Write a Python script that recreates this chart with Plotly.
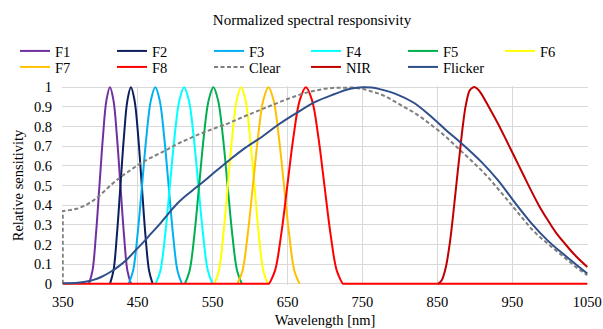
import plotly.graph_objects as go

# ---------------- data ----------------
bell = [0, 0.067, 0.25, 0.5, 0.75, 0.933, 1, 0.933, 0.75, 0.5, 0.25, 0.067, 0]

f1_x = [385, 389.7, 394.3, 399, 403.7, 408.3, 413, 417.7, 422.3, 427, 431.7, 436.3, 441]
f2_x = [413, 417.7, 422.3, 427, 431.7, 436.3, 441, 445.8, 450.7, 455.5, 460.3, 465.2, 470]
f3_x = [438, 443.9, 449.8, 455.8, 461.7, 467.6, 473.5, 479.4, 485.3, 491.3, 497.2, 503.1, 509]
f4_x = [474, 480.3, 486.7, 493, 499.3, 505.7, 512, 518.3, 524.7, 531, 537.3, 543.7, 550]
f5_x = [513, 519.3, 525.7, 532, 538.3, 544.7, 551, 557.3, 563.7, 570, 576.3, 582.7, 589]
f6_x = [552.5, 558.4, 564.3, 570.3, 576.2, 582.1, 588, 593.9, 599.8, 605.8, 611.7, 617.6, 623.5]
f7_x = [583, 589.9, 596.8, 603.8, 610.7, 617.6, 624.5, 631.4, 638.3, 645.3, 652.2, 659.1, 666]
f8_x = [350, 624.5, 625, 633.25, 641.5, 649.75, 658, 666.25, 674.5, 682.75, 691, 699.25,
        707.5, 715.75, 724, 724.5, 1050]
f8_y = [0, 0] + bell + [0, 0]

clear_x = [350, 350, 360, 370, 380, 391, 400, 405, 415, 427, 440, 451, 463, 476, 490, 502,
           515, 527, 540, 555, 571, 590, 605, 616, 628, 640, 650, 660, 670, 680, 690, 700,
           713, 725, 738, 751, 762, 773, 784, 795, 806, 818, 829, 840, 851, 862, 872, 882,
           895, 909, 920, 931, 942, 953, 964, 975, 986, 997, 1008, 1020, 1035, 1050]
clear_y = [0, 0.37, 0.375, 0.383, 0.398, 0.424, 0.452, 0.47, 0.505, 0.543, 0.578, 0.606,
           0.632, 0.656, 0.684, 0.71, 0.733, 0.753, 0.773, 0.795, 0.816, 0.848, 0.872, 0.89,
           0.908, 0.925, 0.94, 0.955, 0.967, 0.977, 0.986, 0.992, 0.997, 0.999, 0.998, 0.991,
           0.98, 0.966, 0.947, 0.924, 0.9, 0.873, 0.845, 0.814, 0.781, 0.746, 0.711, 0.676,
           0.628, 0.577, 0.532, 0.484, 0.433, 0.382, 0.33, 0.281, 0.24, 0.205, 0.166, 0.128,
           0.085, 0.044]

nir_x = [851, 856, 861, 866.5, 871, 875.4, 880, 884.3, 888, 893, 897, 900, 904, 908.7, 920,
         930.9, 942, 953, 964, 975, 986, 997.5, 1008, 1020, 1035, 1050]
nir_y = [0, 0.02, 0.08, 0.205, 0.35, 0.509, 0.67, 0.814, 0.91, 0.983, 0.998, 1.0, 0.99,
         0.966, 0.89, 0.814, 0.73, 0.645, 0.56, 0.475, 0.395, 0.323, 0.262, 0.205, 0.14, 0.086]

flicker_x = [350, 370, 380, 391, 402, 413.5, 425, 436, 447, 458, 469, 480, 491, 502, 515,
             527, 540, 555, 571, 593, 616, 638, 660, 687, 713, 730, 742, 751, 762, 773, 795,
             818, 840, 862, 882, 909, 931, 953, 975, 997, 1020, 1050]
flicker_y = [0.003, 0.006, 0.01, 0.02, 0.036, 0.06, 0.09, 0.125, 0.17, 0.213, 0.26, 0.306,
             0.357, 0.405, 0.45, 0.487, 0.527, 0.575, 0.625, 0.69, 0.748, 0.81, 0.864, 0.925,
             0.965, 0.988, 0.997, 1.0, 0.998, 0.99, 0.965, 0.922, 0.856, 0.78, 0.715, 0.619,
             0.526, 0.415, 0.31, 0.221, 0.145, 0.052]

names = ["F1", "F2", "F3", "F4", "F5", "F6", "F7", "F8", "Clear", "NIR", "Flicker"]
x_ticks = [350, 450, 550, 650, 750, 850, 950, 1050]
y_ticks = [0, 0.1, 0.2, 0.3, 0.4, 0.5, 0.6, 0.7, 0.8, 0.9, 1]
y_tick_text = ["0", "0.1", "0.2", "0.3", "0.4", "0.5", "0.6", "0.7", "0.8", "0.9", "1"]

# ---------------- styles ----------------
colors = {"F1": "#7030A0", "F2": "#0B1F5C", "F3": "#00B0F0", "F4": "#00FFFF",
          "F5": "#00B050", "F6": "#FFFF00", "F7": "#FFC000", "F8": "#FF0000",
          "Clear": "#7F7F7F", "NIR": "#C00000", "Flicker": "#2F4F8A"}
FONT = "Liberation Serif, Times New Roman, serif"

series = [
    ("F1", f1_x, bell), ("F2", f2_x, bell), ("F3", f3_x, bell), ("F4", f4_x, bell),
    ("F5", f5_x, bell), ("F6", f6_x, bell), ("F7", f7_x, bell), ("F8", f8_x, f8_y),
    ("Clear", clear_x, clear_y), ("NIR", nir_x, nir_y), ("Flicker", flicker_x, flicker_y),
]

fig = go.Figure()
for i, (nm, xs, ys) in enumerate(series):
    line = dict(color=colors[nm], width=2)
    if nm == "Clear":
        line.update(dash="4px,2.5px", shape="linear")
    else:
        line.update(shape="spline", smoothing=1)
    fig.add_trace(go.Scatter(x=xs, y=ys, mode="lines", name=nm, line=line,
                             legend="legend" if i < 6 else "legend2",
                             hoverinfo="skip"))

legend_common = dict(orientation="h", xref="paper", yref="paper", xanchor="left",
                     yanchor="middle", entrywidth=52, entrywidthmode="pixels",
                     font=dict(family=FONT, size=14.5, color="#000"),
                     bgcolor="rgba(0,0,0,0)", itemclick=False, itemdoubleclick=False)

fig.update_layout(
    width=603, height=329,
    margin=dict(l=62, r=15, t=86, b=44, autoexpand=False),
    paper_bgcolor="white", plot_bgcolor="white",
    title=dict(text="Normalized spectral responsivity", x=312 / 603, xanchor="center",
               y=1 - 20 / 329, yanchor="middle",
               font=dict(family=FONT, size=15, color="#000")),
    legend=dict(legend_common, x=(15 - 62) / 526, y=(285 - 51) / 199),
    legend2=dict(legend_common, x=(15 - 62) / 526, y=(285 - 67) / 199),
    showlegend=True,
)

fig.update_xaxes(range=[349, 1051], tickvals=x_ticks, ticktext=[str(v) for v in x_ticks],
                 showgrid=True, gridcolor="#D9D9D9", gridwidth=1.3, zeroline=False,
                 showline=False, ticks="", ticklabelstandoff=6,
                 ticklabeloverflow="allow",
                 tickfont=dict(family=FONT, size=14.5, color="#000"),
                 title=dict(text="Wavelength [nm]", standoff=6,
                            font=dict(family=FONT, size=14.5, color="#000")),
                 automargin=False, fixedrange=True)
fig.update_yaxes(range=[-0.006, 1.006], tickvals=y_ticks, ticktext=y_tick_text,
                 showgrid=True, gridcolor="#D9D9D9", gridwidth=1.3, zeroline=False,
                 showline=False, ticks="", ticklabelstandoff=9,
                 tickfont=dict(family=FONT, size=14.5, color="#000"),
                 title=dict(text="Relative sensitivity", standoff=6,
                            font=dict(family=FONT, size=14.5, color="#000")),
                 automargin=False, fixedrange=True)

fig.write_html("out.html", config={"displayModeBar": False})
